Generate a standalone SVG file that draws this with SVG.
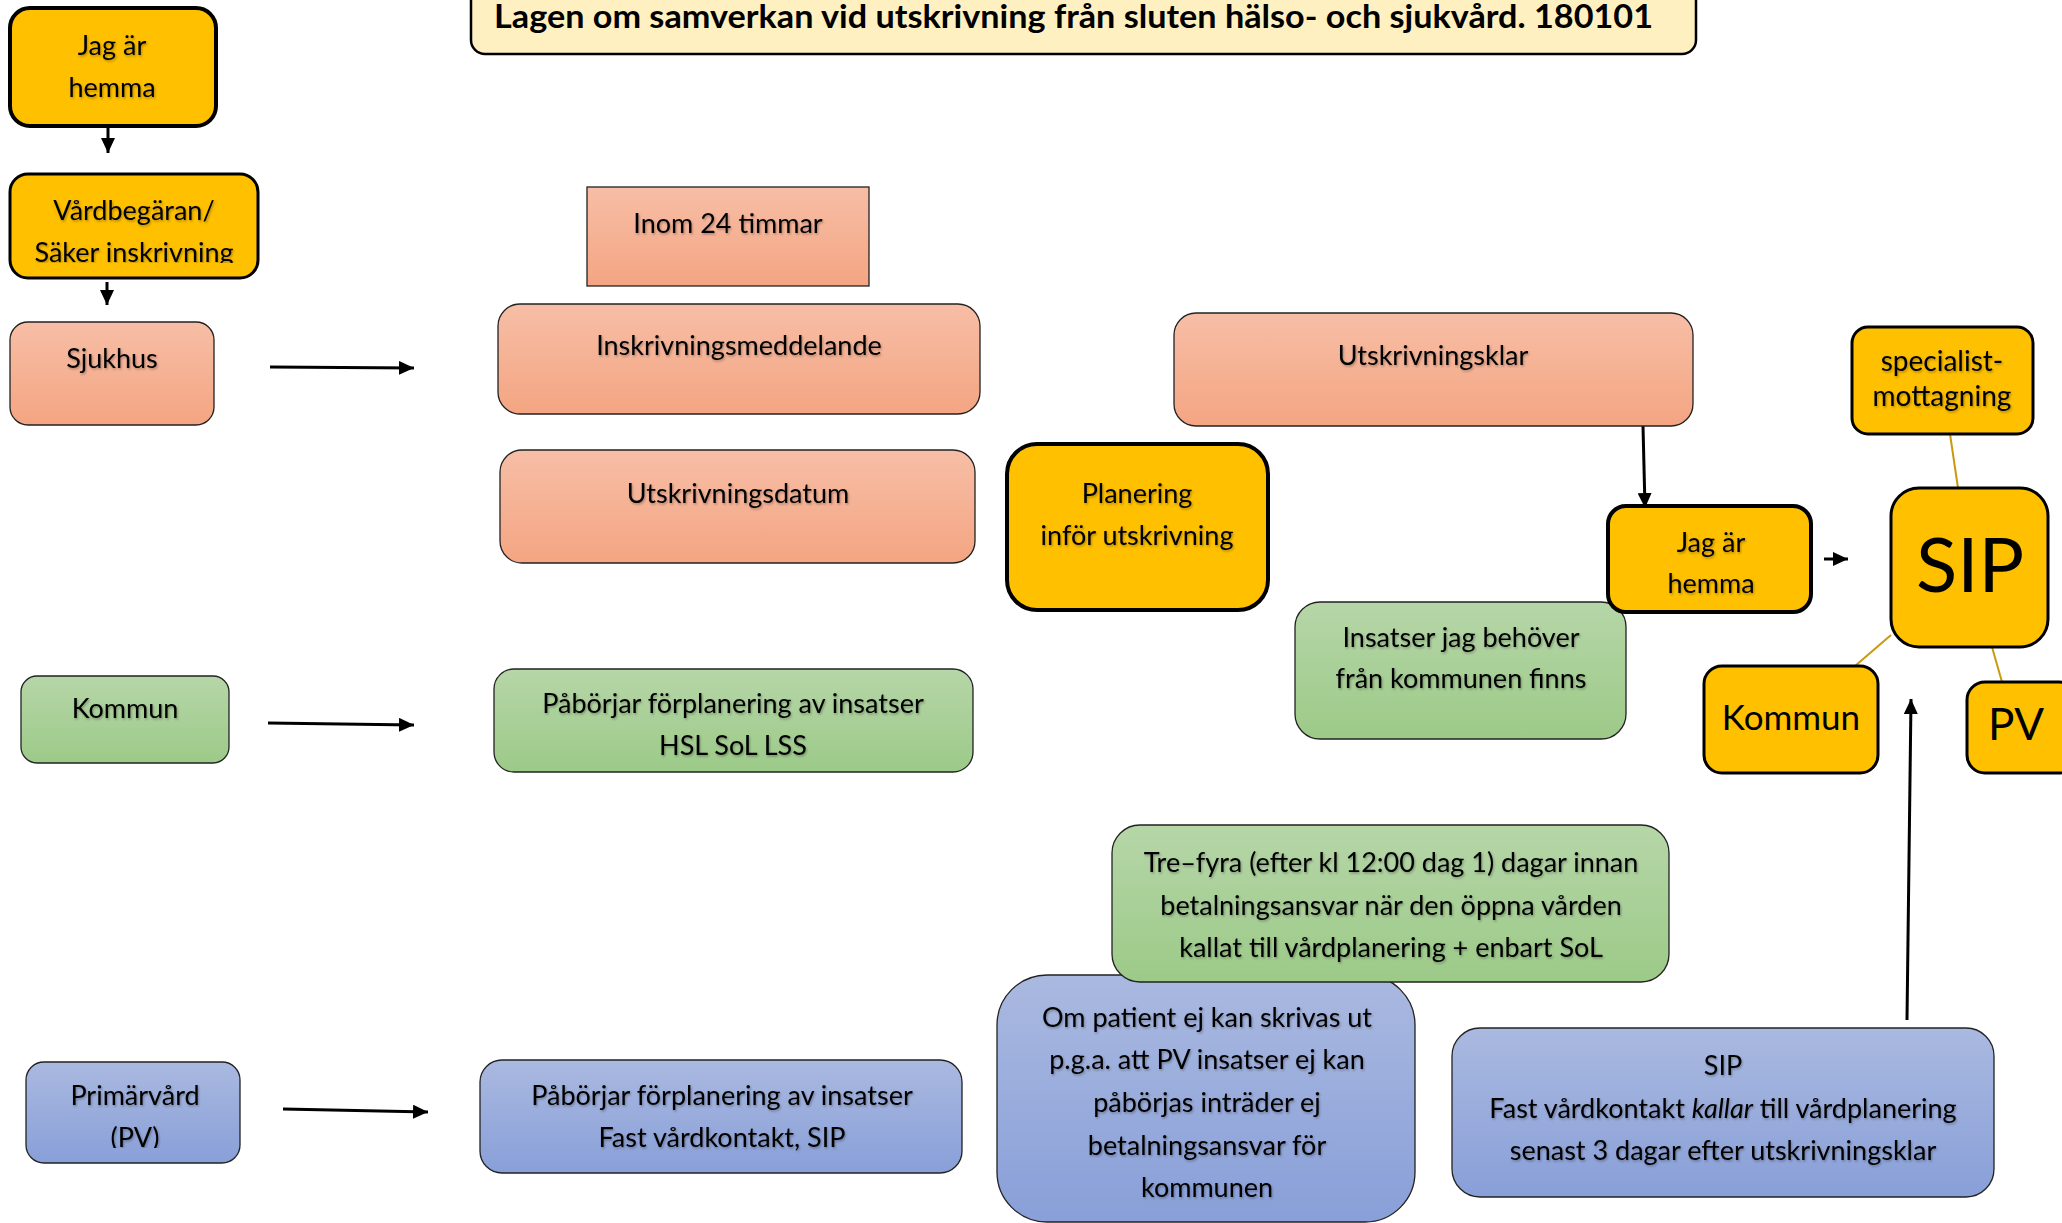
<svg xmlns="http://www.w3.org/2000/svg" width="2062" height="1223" viewBox="0 0 2062 1223">
<defs>
<linearGradient id="gSal" x1="0" y1="0" x2="0" y2="1"><stop offset="0" stop-color="#F7BEA6"/><stop offset="1" stop-color="#F4A582"/></linearGradient>
<linearGradient id="gGrn" x1="0" y1="0" x2="0" y2="1"><stop offset="0" stop-color="#B6D6A8"/><stop offset="1" stop-color="#9CCA88"/></linearGradient>
<linearGradient id="gBlu" x1="0" y1="0" x2="0" y2="1"><stop offset="0" stop-color="#AAB9E0"/><stop offset="1" stop-color="#889FD8"/></linearGradient>
<marker id="ah" markerUnits="userSpaceOnUse" markerWidth="16" markerHeight="14" refX="15" refY="7" orient="auto"><path d="M0,0 L15,7 L0,14 Z" fill="#000"/></marker>
<filter id="ts" x="-5%" y="-20%" width="110%" height="150%"><feDropShadow dx="1" dy="1.5" stdDeviation="0.8" flood-color="#000" flood-opacity="0.3"/></filter>
<clipPath id="cVard"><rect x="0" y="170" width="300" height="93"/></clipPath>
<clipPath id="cPrim"><rect x="0" y="1050" width="300" height="98"/></clipPath>
</defs>
<style>
text{font-family:Lato,"Liberation Sans",sans-serif;fill:#000;text-anchor:middle;font-size:27px}
.t{filter:url(#ts)}
.org{fill:#FFC000;stroke:#000;stroke-width:4}
.org3{fill:#FFC000;stroke:#000;stroke-width:3}
.sal{fill:url(#gSal);stroke:#222;stroke-width:1.3}
.grn{fill:url(#gGrn);stroke:#222;stroke-width:1.3}
.blu{fill:url(#gBlu);stroke:#222;stroke-width:1.3}
.arr{stroke:#000;stroke-width:3;fill:none;marker-end:url(#ah)}
.gold{stroke:#C99A10;stroke-width:2;fill:none}
</style>

<g id="title">
<rect x="471" y="-20" width="1225" height="74" rx="14" fill="#FFF0C1" stroke="#000" stroke-width="2.5"/>
<text x="494" y="28" textLength="1159" lengthAdjust="spacingAndGlyphs" style="text-anchor:start;font-weight:bold;font-size:32px">Lagen om samverkan vid utskrivning från sluten hälso- och sjukvård. 180101</text>
</g>

<g id="connectors">
<line class="arr" x1="108" y1="127" x2="108" y2="153"/>
<line class="arr" x1="107" y1="282" x2="107" y2="305"/>
<line class="arr" x1="270" y1="367" x2="414" y2="368"/>
<line class="arr" x1="268" y1="723" x2="414" y2="725"/>
<line class="arr" x1="283" y1="1109" x2="428" y2="1112"/>
<line class="arr" x1="1643" y1="426" x2="1645" y2="508"/>
<line class="arr" x1="1824" y1="559" x2="1848" y2="559"/>
<line class="arr" x1="1907" y1="1020" x2="1911" y2="699"/>
<line class="gold" x1="1950" y1="434" x2="1958" y2="488"/>
<line class="gold" x1="1855" y1="666" x2="1891" y2="635"/>
<line class="gold" x1="1992" y1="647" x2="2002" y2="682"/>
</g>

<g id="jag1">
<rect class="org" x="10" y="8" width="206" height="118" rx="20"/>
<text class="t" x="112" y="55">Jag är</text>
<text class="t" x="112" y="97">hemma</text>
</g>

<g id="vardbegaran">
<rect class="org3" x="10" y="174" width="248" height="104" rx="18"/>
<text class="t" x="134" y="220">Vårdbegäran/</text>
<g clip-path="url(#cVard)"><text class="t" x="134" y="262">Säker inskrivning</text></g>
</g>

<g id="sjukhus">
<rect class="sal" x="10" y="322" width="204" height="103" rx="18"/>
<text class="t" x="112" y="368">Sjukhus</text>
</g>

<g id="inom24">
<rect class="sal" x="587" y="187" width="282" height="99"/>
<text class="t" x="728" y="233">Inom 24 timmar</text>
</g>

<g id="inskrivningsmeddelande">
<rect class="sal" x="498" y="304" width="482" height="110" rx="22"/>
<text class="t" x="739" y="355">Inskrivningsmeddelande</text>
</g>

<g id="utskrivningsdatum">
<rect class="sal" x="500" y="450" width="475" height="113" rx="22"/>
<text class="t" x="738" y="503">Utskrivningsdatum</text>
</g>

<g id="planering">
<rect class="org" x="1007" y="444" width="261" height="166" rx="30"/>
<text class="t" x="1137" y="503">Planering</text>
<text class="t" x="1137" y="545">inför utskrivning</text>
</g>

<g id="utskrivningsklar">
<rect class="sal" x="1174" y="313" width="519" height="113" rx="22"/>
<text class="t" x="1433" y="365">Utskrivningsklar</text>
</g>

<g id="specialist">
<rect class="org3" x="1852" y="327" width="181" height="107" rx="16"/>
<text class="t" x="1942" y="371" style="font-size:28px">specialist-</text>
<text class="t" x="1942" y="406" style="font-size:28px">mottagning</text>
</g>

<g id="insatser">
<rect class="grn" x="1295" y="602" width="331" height="137" rx="25"/>
<text class="t" x="1461" y="647">Insatser jag behöver</text>
<text class="t" x="1461" y="688">från kommunen finns</text>
</g>

<g id="jag2">
<rect class="org" x="1608" y="506" width="203" height="106" rx="18"/>
<text class="t" x="1711" y="552">Jag är</text>
<text class="t" x="1711" y="593">hemma</text>
</g>

<g id="sip">
<rect class="org3" x="1891" y="488" width="157" height="159" rx="28"/>
<text x="1970" y="592" style="font-size:76px">SIP</text>
</g>

<g id="kommunR">
<rect class="org3" x="1704" y="666" width="174" height="107" rx="18"/>
<text x="1791" y="730" style="font-size:35px">Kommun</text>
</g>

<g id="pv">
<rect class="org3" x="1967" y="682" width="110" height="91" rx="18"/>
<text x="2016" y="740" style="font-size:44px">PV</text>
</g>

<g id="kommunL">
<rect class="grn" x="21" y="676" width="208" height="87" rx="16"/>
<text class="t" x="125" y="718">Kommun</text>
</g>

<g id="paborjarK">
<rect class="grn" x="494" y="669" width="479" height="103" rx="20"/>
<text class="t" x="733" y="713">Påbörjar förplanering av insatser</text>
<text class="t" x="733" y="755">HSL SoL LSS</text>
</g>

<g id="ompatient">
<rect class="blu" x="997" y="975" width="418" height="247" rx="50"/>
<text class="t" x="1207" y="1027">Om patient ej kan skrivas ut</text>
<text class="t" x="1207" y="1069">p.g.a. att PV insatser ej kan</text>
<text class="t" x="1207" y="1112">påbörjas inträder ej</text>
<text class="t" x="1207" y="1155">betalningsansvar för</text>
<text class="t" x="1207" y="1197">kommunen</text>
</g>

<g id="trefyra">
<rect class="grn" x="1112" y="825" width="557" height="157" rx="28"/>
<text class="t" x="1391" y="872">Tre–fyra (efter kl 12:00 dag 1) dagar innan</text>
<text class="t" x="1391" y="915">betalningsansvar när den öppna vården</text>
<text class="t" x="1391" y="957">kallat till vårdplanering + enbart SoL</text>
</g>

<g id="sipblue">
<rect class="blu" x="1452" y="1028" width="542" height="169" rx="28"/>
<text class="t" x="1723" y="1075">SIP</text>
<text class="t" x="1723" y="1118">Fast vårdkontakt <tspan font-style="italic">kallar</tspan> till vårdplanering</text>
<text class="t" x="1723" y="1160">senast 3 dagar efter utskrivningsklar</text>
</g>

<g id="primarvard">
<rect class="blu" x="26" y="1062" width="214" height="101" rx="18"/>
<text class="t" x="135" y="1105">Primärvård</text>
<g clip-path="url(#cPrim)"><text class="t" x="135" y="1147">(PV)</text></g>
</g>

<g id="paborjarPV">
<rect class="blu" x="480" y="1060" width="482" height="113" rx="22"/>
<text class="t" x="722" y="1105">Påbörjar förplanering av insatser</text>
<text class="t" x="722" y="1147">Fast vårdkontakt, SIP</text>
</g>
</svg>
